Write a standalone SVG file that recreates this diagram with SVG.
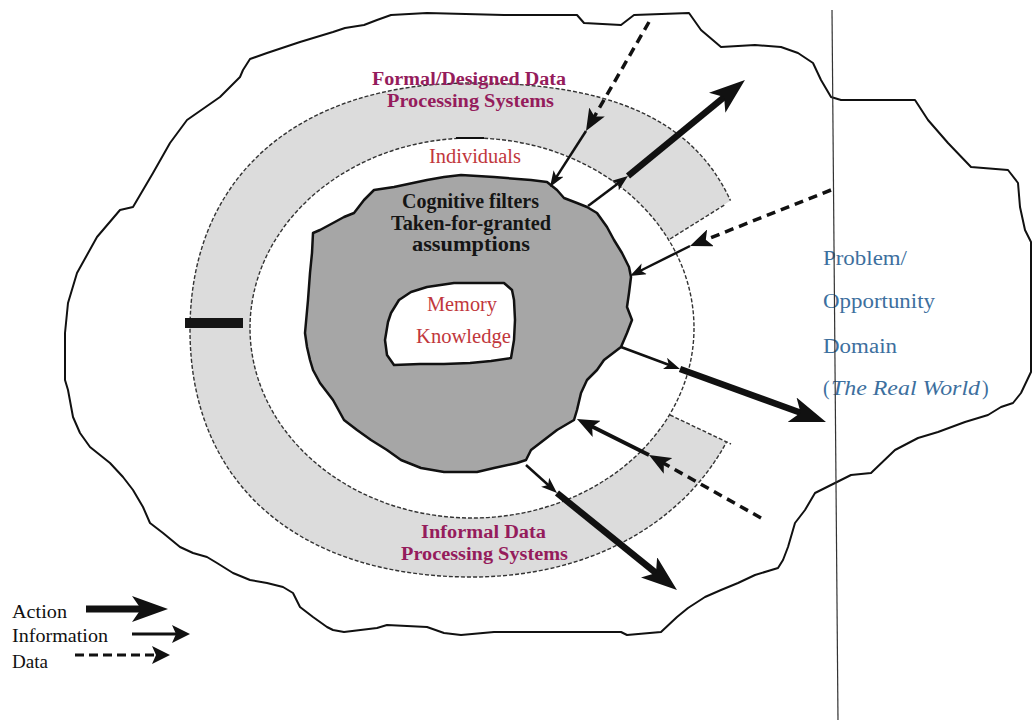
<svg xmlns="http://www.w3.org/2000/svg" width="1033" height="720" viewBox="0 0 1033 720">
  <style>
    .outline { fill: none; stroke: #111; stroke-width: 2; stroke-linejoin: round; }
    .ringedge { fill: none; stroke: #333; stroke-width: 1.4; stroke-dasharray: 4 2; }
    .lbl-sys { font-family: "Liberation Serif", serif; font-weight: bold; font-size: 18px; fill: #951c5c; }
    .lbl-red { font-family: "Liberation Serif", serif; font-size: 20px; fill: #c1373c; }
    .lbl-cog { font-family: "Liberation Serif", serif; font-weight: bold; font-size: 20px; fill: #151515; }
    .lbl-dom { font-family: "Liberation Serif", serif; font-size: 20px; fill: #3d6f9e; }
    .lbl-leg { font-family: "Liberation Serif", serif; font-size: 18px; fill: #111; }
    .action { fill: none; stroke: #111; stroke-width: 6.5; }
    .info { fill: none; stroke: #111; stroke-width: 2.5; }
    .medium { fill: none; stroke: #111; stroke-width: 4; }
    .data { fill: none; stroke: #111; stroke-width: 3.5; stroke-dasharray: 9 6; }
  </style>
  <defs>
    <marker id="mBig" viewBox="0 0 36 26" refX="12" refY="13" markerWidth="36" markerHeight="26" markerUnits="userSpaceOnUse" orient="auto">
      <path d="M0,0 L36,13 L0,26 L9,13 Z" fill="#111"/>
    </marker>
    <marker id="mMed" viewBox="0 0 22 18" refX="8" refY="9" markerWidth="22" markerHeight="18" markerUnits="userSpaceOnUse" orient="auto">
      <path d="M0,0 L22,9 L0,18 L5,9 Z" fill="#111"/>
    </marker>
    <marker id="mSmall" viewBox="0 0 16 12" refX="6" refY="6" markerWidth="16" markerHeight="12" markerUnits="userSpaceOnUse" orient="auto">
      <path d="M0,0 L16,6 L0,12 L4,6 Z" fill="#111"/>
    </marker>
    <marker id="mLeg" viewBox="0 0 18 18" refX="6" refY="9" markerWidth="18" markerHeight="18" markerUnits="userSpaceOnUse" orient="auto">
      <path d="M0,0 L18,9 L0,18 L4,9 Z" fill="#111"/>
    </marker>
    <!-- keeps everything except the open wedge on the right of the ring -->
    <clipPath id="ringClip">
      <polygon points="0,0 1033,0 1033,10 600,283 600,382 1033,588 1033,720 0,720"/>
    </clipPath>
  </defs>

  <!-- problem / opportunity domain boundary -->
  <g id="domain">
    <path class="outline" d="M65,360 L65,333 L68,303 L77,273 L97,237 L120,210 L133,207 L153,173 L170,143 L187,120 L220,97 L240,77 L243,70 L250,59 L267,53 L300,42 L333,32 L345,28 L364,25 L377,20 L391,15 L427,13 L504,15 L577,15 L584,23 L621,25 L634,15 L689,13 L701,30 L721,47 L755,45 L781,47 L798,53 L813,63 L821,80 L831,97 L841,100 L915,100 L928,120 L948,143 L971,167 L1008,170 L1018,183 L1020,207 L1025,230 L1031,242 L1031,372 L1021,393 L1013,403 L1001,407 L988,415 L965,422 L938,432 L918,438 L895,450 L871,473 L851,475 L831,485 L815,493 L805,510 L795,523 L788,547 L783,560 L778,568 L755,575 L738,583 L721,590 L705,597 L688,608 L677,617 L661,632 L627,635 L621,632 L494,632 L461,635 L444,633 L427,627 L387,625 L377,628 L344,632 L333,630 L327,627 L313,617 L300,607 L293,593 L283,587 L267,583 L250,580 L233,573 L217,563 L207,557 L193,553 L180,547 L163,533 L150,523 L143,507 L133,490 L123,477 L110,463 L90,447 L80,433 L73,417 L68,390 L65,380 Z"/>
  </g>

  <!-- formal / informal data processing ring -->
  <g id="ring">
    <g clip-path="url(#ringClip)">
      <path fill="#dcdcdc" fill-rule="evenodd" d="M754,330 C754,473.3 635.6,577 472,577 C297.2,577 190,483.1 190,330 C190,176.9 297.2,83 472,83 C669.4,83 754,157.1 754,330 Z M694,328 A222,190 0 1 0 250,328 A222,190 0 1 0 694,328 Z"/>
      <path class="ringedge" d="M754,330 C754,473.3 635.6,577 472,577 C297.2,577 190,483.1 190,330 C190,176.9 297.2,83 472,83 C669.4,83 754,157.1 754,330 Z"/>
    </g>
    <ellipse class="ringedge" cx="472" cy="328" rx="222" ry="190"/>
    <line class="ringedge" x1="670" y1="239" x2="726" y2="204"/>
    <line class="ringedge" x1="670" y1="415" x2="731" y2="444"/>
    <line x1="456" y1="138" x2="484" y2="138" stroke="#111" stroke-width="2"/>
    <rect x="185" y="318" width="58" height="10" fill="#151515"/>
  </g>

  <!-- cognitive filters -->
  <g id="filters">
    <path fill="#a6a6a6" stroke="#111" stroke-width="2.5" stroke-linejoin="round" d="M313,233 L320,230 L333,223 L344,217 L354,213 L364,200 L374,190 L394,187 L427,180 L444,177 L461,175 L494,177 L531,180 L547,182 L557,190 L564,198 L577,203 L587,207 L597,213 L607,227 L614,240 L622,253 L629,267 L631,277 L629,293 L627,307 L632,320 L627,333 L621,347 L604,360 L597,370 L587,380 L581,393 L577,410 L574,420 L557,430 L544,440 L531,450 L526,460 L517,463 L494,468 L477,472 L444,472 L421,468 L401,460 L387,450 L371,440 L357,430 L344,420 L333,400 L320,383 L313,370 L310,360 L307,347 L305,333 L308,300 L310,273 L312,253 Z"/>
  </g>

  <!-- memory / knowledge -->
  <g id="memory">
    <path fill="#ffffff" stroke="#111" stroke-width="2.5" stroke-linejoin="round" d="M399,300 L411,292 L427,287 L454,283 L480,283 L504,283 L512,290 L514,300 L515,320 L514,340 L511,358 L491,361 L470,363 L444,364 L420,364 L394,365 L387,355 L385,340 L388,322 L391,313 Z"/>
  </g>

  <!-- labels inside the rings -->
  <g id="formal-label">
    <text class="lbl-sys" x="372" y="85" textLength="194" lengthAdjust="spacingAndGlyphs">Formal/Designed Data</text>
    <text class="lbl-sys" x="387" y="107" textLength="167" lengthAdjust="spacingAndGlyphs">Processing Systems</text>
  </g>
  <g id="individuals-label">
    <text class="lbl-red" x="429" y="163" textLength="92" lengthAdjust="spacingAndGlyphs">Individuals</text>
  </g>
  <g id="filters-label">
    <text class="lbl-cog" x="402" y="208" textLength="137" lengthAdjust="spacingAndGlyphs">Cognitive filters</text>
    <text class="lbl-cog" x="391" y="230" textLength="160" lengthAdjust="spacingAndGlyphs">Taken-for-granted</text>
    <text class="lbl-cog" x="412" y="251" textLength="118" lengthAdjust="spacingAndGlyphs">assumptions</text>
  </g>
  <g id="memory-label">
    <text class="lbl-red" x="427" y="311" textLength="70" lengthAdjust="spacingAndGlyphs">Memory</text>
    <text class="lbl-red" x="416" y="343" textLength="95" lengthAdjust="spacingAndGlyphs">Knowledge</text>
  </g>
  <g id="informal-label">
    <text class="lbl-sys" x="421" y="538" textLength="125" lengthAdjust="spacingAndGlyphs">Informal Data</text>
    <text class="lbl-sys" x="401" y="560" textLength="167" lengthAdjust="spacingAndGlyphs">Processing Systems</text>
  </g>

  <!-- flows of data, information and action -->
  <g id="connectors">
    <path class="data" d="M649,22 L593,119" marker-end="url(#mMed)"/>
    <path class="info" d="M586,131 L555.4,178.6" marker-end="url(#mSmall)"/>
    <path class="info" d="M588,206 L620,182" marker-end="url(#mSmall)"/>
    <path class="action" d="M628,176 L726.4,95.2" marker-end="url(#mBig)"/>
    <path class="data" d="M831,190 L703,240.8" marker-end="url(#mMed)"/>
    <path class="info" d="M690,246 L638.9,271.5" marker-end="url(#mSmall)"/>
    <path class="info" d="M621,347 L670.6,365.5" marker-end="url(#mSmall)"/>
    <path class="action" d="M680,369 L803.4,413.8" marker-end="url(#mBig)"/>
    <path class="data" d="M761,518 L661.2,461.9" marker-end="url(#mMed)"/>
    <path class="medium" d="M649,455 L589.5,425.3" marker-end="url(#mMed)"/>
    <path class="info" d="M526,465 L549.6,486.3" marker-end="url(#mSmall)"/>
    <path class="action" d="M557,493 L658.3,574.9" marker-end="url(#mBig)"/>
  </g>

  <!-- real world label -->
  <g id="domain-label">
    <text class="lbl-dom" x="823" y="265" textLength="84" lengthAdjust="spacingAndGlyphs">Problem/</text>
    <text class="lbl-dom" x="823" y="308" textLength="112" lengthAdjust="spacingAndGlyphs">Opportunity</text>
    <text class="lbl-dom" x="823" y="353" textLength="74" lengthAdjust="spacingAndGlyphs">Domain</text>
    <text class="lbl-dom" x="823" y="395">(</text>
    <text class="lbl-dom" x="831" y="395" font-style="italic" textLength="149" lengthAdjust="spacingAndGlyphs">The Real World</text>
    <text class="lbl-dom" x="982" y="395">)</text>
  </g>

  <g id="divider">
    <line x1="832" y1="10" x2="838" y2="720" stroke="#333" stroke-width="1.2"/>
  </g>

  <!-- legend -->
  <g id="legend">
    <text class="lbl-leg" x="12" y="618" textLength="55" lengthAdjust="spacingAndGlyphs">Action</text>
    <text class="lbl-leg" x="12" y="642" textLength="96" lengthAdjust="spacingAndGlyphs">Information</text>
    <text class="lbl-leg" x="12" y="668" textLength="36" lengthAdjust="spacingAndGlyphs">Data</text>
    <path d="M86,609 L144,609" fill="none" stroke="#111" stroke-width="7" marker-end="url(#mBig)"/>
    <path d="M132,634 L178,634" fill="none" stroke="#111" stroke-width="3" marker-end="url(#mLeg)"/>
    <path d="M75,655 L158,655" fill="none" stroke="#111" stroke-width="3" stroke-dasharray="9 5" marker-end="url(#mLeg)"/>
  </g>
</svg>
